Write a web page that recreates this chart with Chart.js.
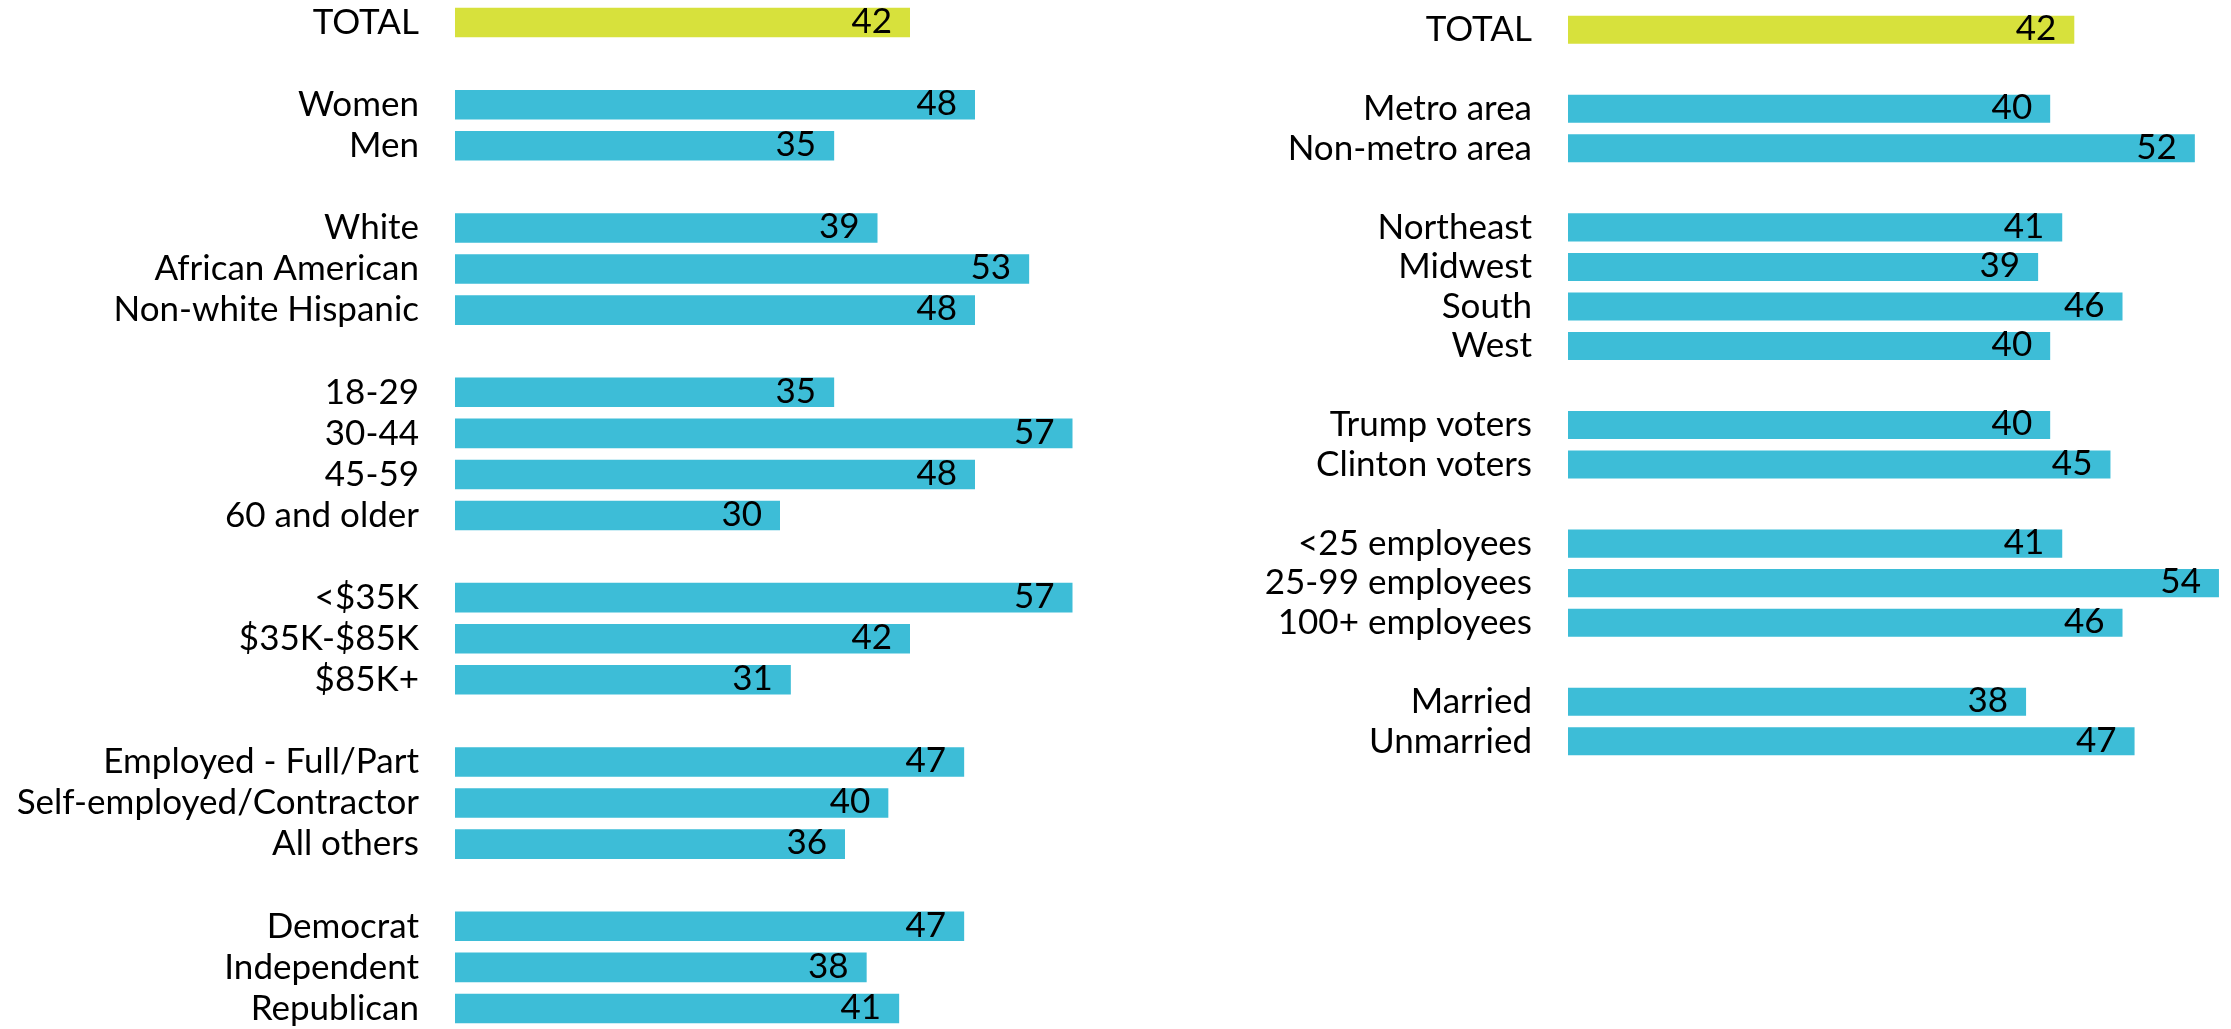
<!DOCTYPE html>
<html>
<head>
<meta charset="utf-8">
<script src="https://cdn.jsdelivr.net/npm/chart.js@4/dist/chart.umd.min.js"></script>
<style>
  html, body { margin: 0; padding: 0; background: #fff; }
  body { width: 2231px; height: 1029px; position: relative; overflow: hidden; }
  .box { position: absolute; }
  #leftBox { left: 0; top: 0; width: 1105px; height: 1029px; }
  #rightBox { left: 1150px; top: 10px; width: 1081px; height: 751px; }
</style>
</head>
<body>
<div class="box" id="leftBox"><canvas id="leftChart"></canvas></div>
<div class="box" id="rightBox"><canvas id="rightChart"></canvas></div>
<script>
// blank strings are spacer rows between groups
const leftLabels = ['TOTAL', '', 'Women', 'Men', '', 'White', 'African American', 'Non-white Hispanic', '',
  '18-29', '30-44', '45-59', '60 and older', '', '<$35K', '$35K-$85K', '$85K+', '',
  'Employed - Full/Part', 'Self-employed/Contractor', 'All others', '',
  'Democrat', 'Independent', 'Republican'];
const leftValues = [42, null, 48, 35, null, 39, 53, 48, null,
  35, 57, 48, 30, null, 57, 42, 31, null,
  47, 40, 36, null,
  47, 38, 41];

const rightLabels = ['TOTAL', '', 'Metro area', 'Non-metro area', '',
  'Northeast', 'Midwest', 'South', 'West', '',
  'Trump voters', 'Clinton voters', '',
  '<25 employees', '25-99 employees', '100+ employees', '',
  'Married', 'Unmarried'];
const rightValues = [42, null, 40, 52, null,
  41, 39, 46, 40, null,
  40, 45, null,
  41, 54, 46, null,
  38, 47];

const totalColor = '#D7E13C';
const barColor = '#3DBDD7';
const fontFamily = 'Lato, "Open Sans", sans-serif';

// value printed inside the right end of each bar
const valueLabels = {
  id: 'valueLabels',
  afterDatasetsDraw(chart) {
    const ctx = chart.ctx;
    const meta = chart.getDatasetMeta(0);
    const data = chart.data.datasets[0].data;
    ctx.save();
    ctx.font = '35px ' + fontFamily;
    ctx.fillStyle = '#000';
    ctx.textAlign = 'right';
    ctx.textBaseline = 'middle';
    meta.data.forEach((bar, i) => {
      if (data[i] == null) return;
      ctx.fillText(String(data[i]), bar.x - 18, bar.y - 1);
    });
    ctx.restore();
  }
};

function makeChart(id, labels, values, xMax, axisWidth, barPct, padTop) {
  return new Chart(document.getElementById(id), {
    type: 'bar',
    data: {
      labels: labels,
      datasets: [{
        data: values,
        backgroundColor: values.map((v, i) => i === 0 ? totalColor : barColor),
        borderWidth: 0,
        categoryPercentage: 1,
        barPercentage: barPct
      }]
    },
    options: {
      indexAxis: 'y',
      responsive: true,
      maintainAspectRatio: false,
      animation: false,
      layout: { padding: { top: padTop, right: 0, bottom: 0, left: 0 } },
      plugins: { legend: { display: false }, tooltip: { enabled: false } },
      scales: {
        x: { display: false, min: 0, max: xMax },
        y: {
          grid: { display: false, drawTicks: false },
          border: { display: false },
          ticks: {
            color: '#000',
            padding: 36,
            autoSkip: false,
            font: { family: fontFamily, size: 35 }
          },
          afterFit(scale) {
            // fixed label column, and no extra room above/below the rows
            scale.width = axisWidth;
            scale.paddingTop = 0;
            scale.paddingBottom = 0;
          }
        }
      }
    },
    plugins: [valueLabels]
  });
}

makeChart('leftChart', leftLabels, leftValues, 60, 455, 0.72, 2);
makeChart('rightChart', rightLabels, rightValues, 55, 418, 0.71, 0);
</script>
</body>
</html>
